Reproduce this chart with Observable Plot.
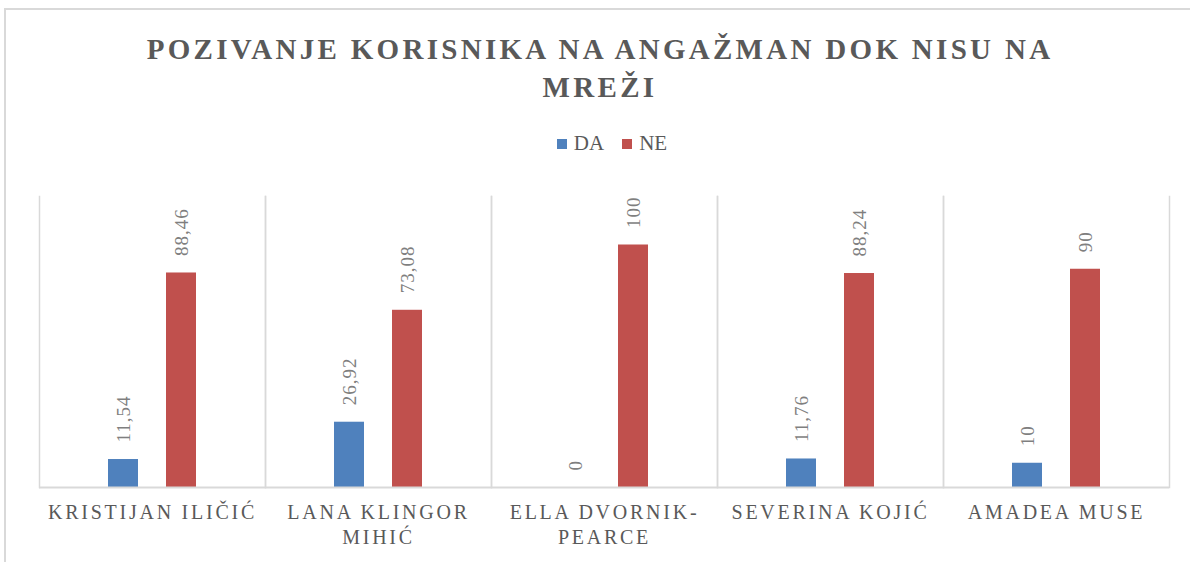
<!DOCTYPE html>
<html><head><meta charset="utf-8">
<script src="https://cdn.jsdelivr.net/npm/d3@7"></script>
<script src="https://cdn.jsdelivr.net/npm/@observablehq/plot@0.6"></script>
<style>
body{margin:0;background:#fff;width:1190px;height:562px;overflow:hidden;position:relative;font-family:"Liberation Serif",serif;}
#frame{position:absolute;left:4px;top:8px;width:1200px;height:600px;border:2px solid #d9d9d9;box-sizing:border-box;}
#title{position:absolute;left:100px;top:30px;width:1000px;text-align:center;font-weight:bold;font-size:29px;letter-spacing:3.3px;line-height:38px;color:#595959;}
#legend{position:absolute;top:127px;left:26px;width:1190px;display:flex;justify-content:center;}
#chart{position:absolute;left:0;top:180px;}
.lg-swatches{font-family:"Liberation Serif",serif !important;font-size:21px !important;color:#595959 !important;margin:0 !important;}
.lg-swatch{margin-right:18px !important;}
.lg-swatch > svg{margin-right:7px !important;}
g[aria-label="fx-axis tick label"] text{letter-spacing:2.75px;}
g[aria-label="text"] text{letter-spacing:1px;}
</style>
</head><body>
<div id="frame"></div>
<div id="title"></div>
<div id="legend"></div>
<div id="chart"></div>
<script>
const title = "POZIVANJE KORISNIKA NA ANGAŽMAN DOK NISU NA MREŽI";
const categories = ["KRISTIJAN ILIČIĆ", "LANA KLINGOR MIHIĆ", "ELLA DVORNIK-PEARCE", "SEVERINA KOJIĆ", "AMADEA MUSE"];
const categoryLines = ["KRISTIJAN ILIČIĆ", "LANA KLINGOR\nMIHIĆ", "ELLA DVORNIK-\nPEARCE", "SEVERINA KOJIĆ", "AMADEA MUSE"];
const series = ["DA", "NE"];
const daValues = [11.54, 26.92, 0, 11.76, 10];
const neValues = [88.46, 73.08, 100, 88.24, 90];
const colors = ["#4f81bd", "#c0504d"];

const rows = categories.flatMap((c, i) => [
  {cat: c, s: series[0], v: daValues[i]},
  {cat: c, s: series[1], v: neValues[i]}
]);
const fmt = v => String(v).replace(".", ",");

document.getElementById("title").textContent = title;

document.getElementById("legend").appendChild(Plot.legend({
  color: {domain: series, range: colors},
  swatchSize: 10,
  className: "lg"
}));

const chart = Plot.plot({
  width: 1190,
  height: 382,
  marginTop: 16,
  marginBottom: 75,
  marginLeft: 37,
  marginRight: 20,
  style: {fontFamily: "Liberation Serif, serif", background: "transparent"},
  fx: {domain: categories, padding: 0, label: null, axis: null},
  x: {domain: series, paddingInner: 0.475, paddingOuter: 1.153, axis: null},
  y: {domain: [0, 120], axis: null},
  color: {domain: series, range: colors},
  marks: [
    Plot.frame({anchor: "left", stroke: "#d9d9d9", strokeWidth: 1.5}),
    Plot.frame({anchor: "right", stroke: "#d9d9d9", strokeWidth: 1.5}),
    Plot.barY(rows, {fx: "cat", x: "s", y: "v", fill: "s"}),
    Plot.ruleY([0], {stroke: "#d9d9d9", strokeWidth: 2}),
    Plot.text(rows, {fx: "cat", x: "s", y: "v", text: d => fmt(d.v), rotate: -90, textAnchor: "start", dy: -17, fill: "#7f7f7f", fontSize: 19}),
    Plot.axisFx({anchor: "bottom", tickSize: 0, tickPadding: 14, tickFormat: d => categoryLines[categories.indexOf(d)], lineHeight: 1.25, fontSize: 20, color: "#595959", label: null})
  ]
});
document.getElementById("chart").appendChild(chart);
</script>
</body></html>
